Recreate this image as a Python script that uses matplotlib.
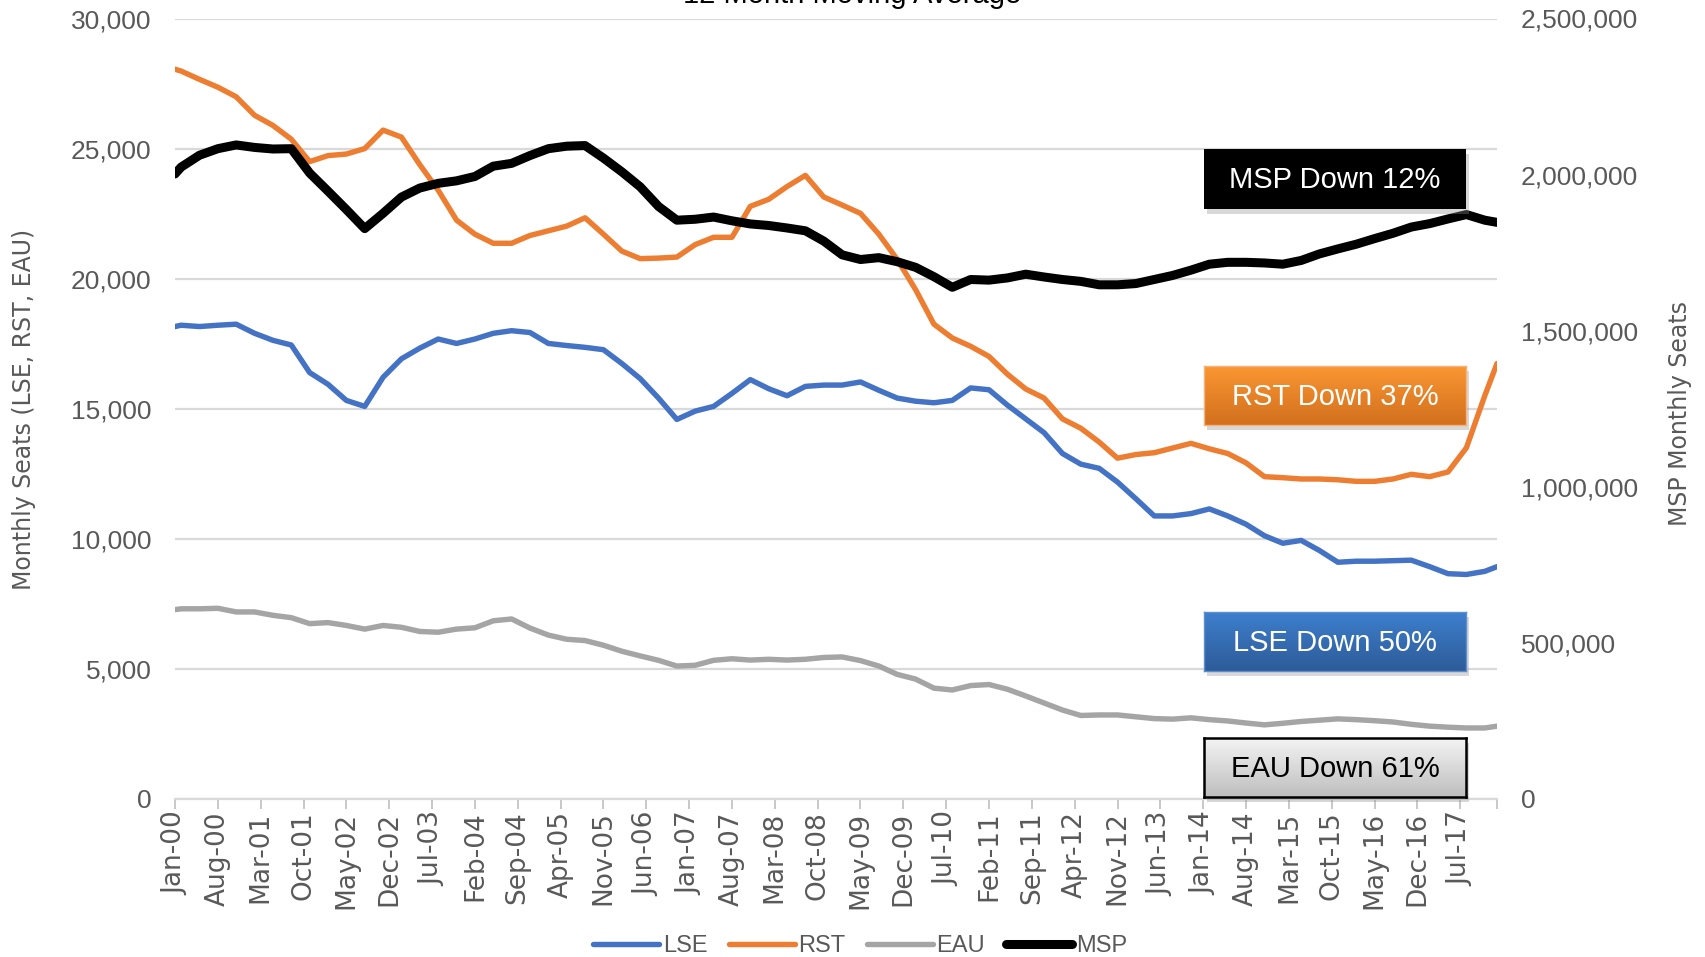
import numpy as np
import matplotlib
matplotlib.use("Agg")
import matplotlib.pyplot as plt
from matplotlib.colors import LinearSegmentedColormap
from matplotlib.patches import Rectangle
from matplotlib.ticker import FuncFormatter

# data (12 month moving average), month index from Jan-00
months = [0] + list(range(1, 215, 3)) + [216]

lse = [18160, 18210, 18160, 18210, 18250, 17900, 17630, 17450, 16390, 15940, 15320, 15090, 16210, 16920, 17330, 17680, 17510, 17680, 17900,
       18000, 17930, 17510, 17430, 17360, 17270, 16740, 16160, 15410, 14590, 14910, 15090, 15590, 16120, 15770, 15500, 15860, 15910, 15910,
       16030, 15710, 15410, 15290, 15230, 15320, 15800, 15730, 15140, 14610, 14080, 13280, 12870, 12710, 12180, 11540, 10880, 10880,
       10970, 11150, 10880, 10560, 10120, 9830, 9940, 9550, 9100, 9140, 9140, 9160, 9180, 8930, 8660, 8630, 8750,
       8930]

rst = [28050, 27980, 27660, 27360, 26990, 26280, 25890, 25360, 24500, 24730, 24790, 25000, 25710, 25440, 24380, 23400, 22250, 21710, 21360,
       21360, 21660, 21840, 22020, 22340, 21710, 21060, 20770, 20790, 20830, 21310, 21590, 21590, 22780, 23050, 23540, 23970, 23140, 22830,
       22510, 21710, 20740, 19580, 18250, 17720, 17400, 17010, 16330, 15760, 15410, 14610, 14250, 13720, 13100, 13240, 13310, 13490,
       13670, 13460, 13280, 12920, 12390, 12350, 12300, 12300, 12270, 12210, 12210, 12300, 12480, 12390, 12570, 13500, 15500,
       16740]

eau = [7280, 7310, 7310, 7330, 7190, 7190, 7060, 6970, 6740, 6780, 6670, 6530, 6670, 6600, 6440, 6410, 6530, 6580, 6850,
       6920, 6570, 6300, 6140, 6090, 5910, 5680, 5500, 5330, 5110, 5140, 5330, 5390, 5340, 5370, 5340, 5370, 5440, 5460,
       5320, 5110, 4790, 4610, 4260, 4190, 4360, 4400, 4220, 3960, 3690, 3420, 3210, 3230, 3230, 3160, 3090, 3070,
       3120, 3050, 3000, 2920, 2850, 2910, 2980, 3030, 3080, 3050, 3010, 2960, 2870, 2800, 2760, 2730, 2730,
       2800]

msp = [2002000, 2024000, 2062000, 2083000, 2095000, 2087000, 2082000, 2083000, 2005000, 1947000, 1888000, 1827000, 1876000, 1928000,
       1957000, 1972000, 1980000, 1994000, 2027000,
       2036000, 2061000, 2083000, 2091000, 2093000, 2053000, 2009000, 1961000, 1898000, 1854000, 1857000, 1864000, 1852000, 1842000,
       1837000, 1829000, 1820000, 1787000, 1743000,
       1728000, 1734000, 1721000, 1703000, 1673000, 1639000, 1664000, 1662000, 1669000, 1681000, 1672000, 1664000, 1658000, 1647000,
       1647000, 1651000, 1664000, 1677000,
       1694000, 1713000, 1719000, 1719000, 1717000, 1713000, 1725000, 1746000, 1762000, 1777000, 1795000, 1812000, 1832000, 1843000,
       1858000, 1872000, 1854000,
       1847000]

tick_labels = ["Jan-00", "Aug-00", "Mar-01", "Oct-01", "May-02", "Dec-02", "Jul-03", "Feb-04", "Sep-04", "Apr-05", "Nov-05",
               "Jun-06", "Jan-07", "Aug-07", "Mar-08", "Oct-08", "May-09", "Dec-09", "Jul-10", "Feb-11", "Sep-11", "Apr-12",
               "Nov-12", "Jun-13", "Jan-14", "Aug-14", "Mar-15", "Oct-15", "May-16", "Dec-16", "Jul-17"]

box_texts = ["MSP Down 12%", "RST Down 37%", "LSE Down 50%", "EAU Down 61%"]

NARROW = ["Liberation Sans Narrow", "Liberation Sans", "DejaVu Sans"]
GREY = "#595959"
W, H = 1705, 957

fig = plt.figure(figsize=(W / 100, H / 100), dpi=100)
ax = fig.add_axes([175 / W, 1 - 799 / H, (1497 - 175) / W, (799 - 18.5) / H])
ax2 = ax.twinx()

l1, = ax.plot(months, lse, color="#4472C4", lw=3.9, solid_capstyle="round", label="LSE")
l2, = ax.plot(months, rst, color="#ED7D31", lw=3.9, solid_capstyle="round", label="RST")
l3, = ax.plot(months, eau, color="#A5A5A5", lw=3.9, solid_capstyle="round", label="EAU")
l4, = ax2.plot(months, msp, color="black", lw=6.5, solid_capstyle="round", label="MSP")

ax.set_xlim(0, 216)
ax.set_ylim(0, 30000)
ax2.set_ylim(0, 2500000)
ax.set_yticks(np.arange(0, 30001, 5000))
ax2.set_yticks(np.arange(0, 2500001, 500000))
fmt = FuncFormatter(lambda v, p: f"{v:,.0f}")
ax.yaxis.set_major_formatter(fmt)
ax2.yaxis.set_major_formatter(fmt)

ax.set_xticks(list(range(0, 211, 7)) + [216])
ax.set_xticklabels(tick_labels + [""], rotation=90, fontsize=19, color=GREY, family="DejaVu Sans")
ax.tick_params(axis="x", length=7, width=1.2, color="#BFBFBF", pad=2)
ax.tick_params(axis="y", length=0, pad=17, labelcolor=GREY)
ax2.tick_params(axis="y", length=0, pad=17, labelcolor=GREY)
for lab in ax.get_yticklabels() + ax2.get_yticklabels():
    lab.set_family(NARROW)
    lab.set_fontsize(19)

ax.grid(axis="y", color="#D9D9D9", lw=1.6)
ax.set_axisbelow(True)
for a in (ax, ax2):
    for s in a.spines.values():
        s.set_visible(False)
ax.spines["bottom"].set_visible(True)
ax.spines["bottom"].set_color("#D9D9D9")
ax.spines["bottom"].set_linewidth(1.6)

fig.text(24 / W, 1 - 409 / H, "Monthly Seats (LSE, RST, EAU)", rotation=90, ha="center", va="center",
         fontsize=17, color=GREY, family="DejaVu Sans")
fig.text(1680 / W, 1 - 413 / H, "MSP Monthly Seats", rotation=90, ha="center", va="center",
         fontsize=17, color=GREY, family="DejaVu Sans")
fig.text(852 / W, 1 - 3 / H, "12 Month Moving Average", ha="center", va="baseline", fontsize=21,
         color="black", family=NARROW)

fig.legend([l1, l2, l3, l4], ["LSE", "RST", "EAU", "MSP"], ncol=4, loc="center",
           bbox_to_anchor=(860 / W, 1 - 946 / H), frameon=False, labelcolor=GREY,
           handlelength=2.8, handletextpad=0.15, columnspacing=0.9, prop={"family": NARROW, "size": 17})

# annotation boxes: (top, bottom) in pixels, top colour, bottom colour, text colour, edge
boxes = [
    (149, 209, "#000000", "#000000", "white", None),
    (366, 425, "#FA9632", "#D2701E", "white", "#F8B27A"),
    (612, 671, "#3E80CE", "#2D5B98", "white", "#5C8FD0"),
    (738, 797, "#F4F4F4", "#BEBEBE", "black", "black"),
]
x0, x1 = 1204, 1466
for (top, bot, c_top, c_bot, tc, ec), txt in zip(boxes, box_texts):
    shadow = Rectangle((x0 / W + 3 / W, 1 - (bot + 5) / H), (x1 - x0) / W, (bot - top) / H,
                       transform=fig.transFigure, color="#909090", alpha=0.35, lw=0, zorder=1)
    fig.patches.append(shadow)
    bax = fig.add_axes([x0 / W, 1 - bot / H, (x1 - x0) / W, (bot - top) / H])
    bax.set_zorder(2)
    cmap = LinearSegmentedColormap.from_list("g", [c_top, c_bot])
    bax.imshow(np.linspace(0, 1, 100).reshape(-1, 1), cmap=cmap, aspect="auto", extent=(0, 1, 0, 1))
    bax.set_xticks([])
    bax.set_yticks([])
    for s in bax.spines.values():
        if ec is None:
            s.set_visible(False)
        else:
            s.set_color(ec)
            s.set_linewidth(1.8 if tc == "black" else 1.0)
    bax.text(0.5, 0.48, txt, ha="center", va="center", color=tc, fontsize=21, family=NARROW,
             transform=bax.transAxes)

fig.savefig("out.png", dpi=100)
